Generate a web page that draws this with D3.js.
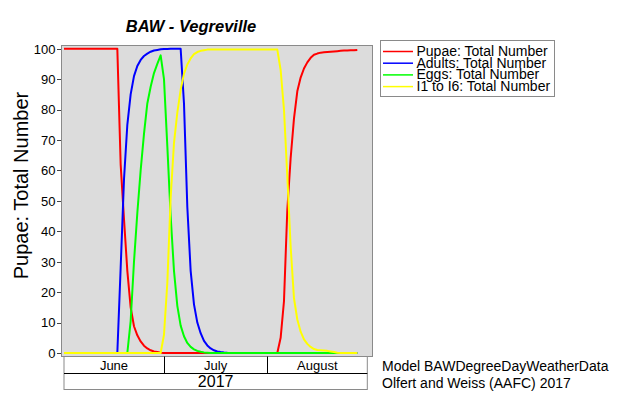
<!DOCTYPE html>
<html>
<head>
<meta charset="utf-8">
<script src="https://cdnjs.cloudflare.com/ajax/libs/d3/7.8.5/d3.min.js"></script>
<style>
  html, body { margin: 0; padding: 0; background: #ffffff; }
  svg { display: block; font-family: "Liberation Sans", Arial, sans-serif; }
</style>
</head>
<body>
<svg id="chart" width="640" height="398"></svg>
<script>
// ---------------- DATA ----------------
const title = "BAW - Vegreville";
const yAxisTitle = "Pupae: Total Number";
const seriesNames = ["Pupae: Total Number", "Adults: Total Number", "Eggs: Total Number", "I1 to I6: Total Number"];
const seriesColors = ["#ff0000", "#0000ff", "#00ff00", "#ffff00"];
const firstDay = "2017-06-01";
const lastDayExclusive = "2017-08-29";
const monthLabels = ["June", "July", "August"];
const monthEdges = ["2017-06-01", "2017-07-01", "2017-08-01", "2017-08-31"];
const yearLabel = "2017";
const yTicks = [0, 10, 20, 30, 40, 50, 60, 70, 80, 90, 100];
const creditLines = ["Model BAWDegreeDayWeatherData", "Olfert and Weiss (AAFC) 2017"];

// daily values, June 1 .. Aug 28
const pupae = [
  100,100,100,100,100,100,100,100,100,100,100,100,100,100,100,100,100,
  62,44,27,15,8.8,5.8,3.8,2.4,1.5,0.9,0.5,0.3,0.1,0,
  0,0,0,0,0,0,0,0,0,0,0,0,0,0,0,0,0,0,0,0,0,0,0,0,0,0,0,0,0,0,0,0,0,0,
  5,17,47,64,77,86,90.5,93.5,95.5,97,98,98.4,98.7,98.8,98.9,99.0,99.1,99.2,99.3,99.4,99.4,99.5,99.5,99.6
];
const adults = [
  0,0,0,0,0,0,0,0,0,0,0,0,0,0,0,0,0,
  28,57,75,85,91,94.3,96.3,97.6,98.4,99,99.4,99.6,99.8,99.9,99.9,100,100,100,100,
  82,48,27,16,10,6.5,4,2.5,1.5,0.9,0.5,0.3,0.15,0.05,
  0,0,0,0,0,0,0,0,0,0,0,0,0,0,0,0,0,0,0,0,0,0,0,0,0,0,0,0,0,0,0,0,0,0,0,0,0,0,0
];
const eggs = [
  0,0,0,0,0,0,0,0,0,0,0,0,0,0,0,0,0,0,0,0,
  10.5,30,46,60,72,82,87.5,92,95,97.8,90,68,45,27,15.5,9,5.5,3.3,2,1.2,0.7,0.4,0.2,0.1,
  0,0,0,0,0,0,0,0,0,0,0,0,0,0,0,0,0,0,0,0,0,0,0,0,0,0,0,0,0,0,0,0,0,0,0,0,0,0,0,0,0,0,0,0,0
];
const instars = [
  0,0,0,0,0,0,0,0,0,0,0,0,0,0,0,0,0,0,0,0,0,0,0,0,0,0,0,0,0,0,
  6,23,51,69,79,86.5,91.8,94.8,96.8,98.2,98.9,99.3,99.5,
  99.7,99.7,99.7,99.7,99.7,99.7,99.7,99.7,99.7,99.7,99.7,99.7,99.7,99.7,99.7,99.7,99.7,99.7,99.7,99.7,99.7,99.7,
  93,80,58,35,18,11,7,4.5,3,2,1.3,1.0,0.9,0.8,0.7,0.5,0.3,0.1,
  0,0,0,0,0,0
];
const seriesValues = [pupae, adults, eggs, instars];

// ---------------- LAYOUT ----------------
const plot = { left: 61, top: 45, right: 372, bottom: 356 };
const svg = d3.select("#chart");
const parse = d3.utcParse("%Y-%m-%d");
const days = d3.utcDay.range(parse(firstDay), parse(lastDayExclusive));

const x = d3.scaleUtc()
  .domain([parse(monthEdges[0]), parse(monthEdges[monthEdges.length - 1])])
  .range([64, 367.3]);
const y = d3.scaleLinear().domain([0, 100]).range([353, 48.7]);

// background / plot frame
svg.append("rect").attr("x", 0).attr("y", 0).attr("width", 640).attr("height", 398).attr("fill", "#ffffff");
svg.append("rect")
  .attr("x", plot.left + 0.5).attr("y", plot.top + 0.5)
  .attr("width", plot.right - plot.left).attr("height", plot.bottom - plot.top)
  .attr("fill", "#dcdcdc").attr("stroke", "#8a8a8a").attr("stroke-width", 1);

// y axis ticks and labels
const yAxis = svg.append("g");
yTicks.forEach(t => {
  yAxis.append("line")
    .attr("x1", 57).attr("x2", plot.left)
    .attr("y1", Math.round(y(t)) + 0.5).attr("y2", Math.round(y(t)) + 0.5)
    .attr("stroke", "#444").attr("stroke-width", 1);
  yAxis.append("text")
    .attr("x", 55.5).attr("y", y(t) + 4.8)
    .attr("text-anchor", "end").attr("font-size", 13).attr("fill", "#000")
    .text(t);
});

// y axis title
svg.append("text")
  .attr("transform", "translate(28,185.5) rotate(-90)")
  .attr("text-anchor", "middle").attr("font-size", 20).attr("fill", "#000")
  .text(yAxisTitle);

// title
svg.append("text")
  .attr("x", 191).attr("y", 32)
  .attr("text-anchor", "middle").attr("font-size", 16.5)
  .attr("font-weight", "bold").attr("font-style", "italic").attr("fill", "#000")
  .text(title);

// series lines
svg.append("clipPath").attr("id", "clipPlot").append("rect")
  .attr("x", plot.left + 1).attr("y", plot.top + 1)
  .attr("width", plot.right - plot.left - 1).attr("height", plot.bottom - plot.top - 1);
const line = d3.line().x(d => x(d[0])).y(d => y(d[1]));
const linesG = svg.append("g").attr("clip-path", "url(#clipPlot)");
seriesValues.forEach((vals, i) => {
  const pts = days.map((d, j) => [d, vals[j]]);
  linesG.append("path")
    .attr("d", line(pts))
    .attr("fill", "none")
    .attr("stroke", seriesColors[i])
    .attr("stroke-width", 2)
    .attr("stroke-linejoin", "round");
});

// bottom month/year table
const edges = monthEdges.map(parse);
const tTop = 356.5, tMid = 373, tBot = 389.5;
const tbl = svg.append("g");
tbl.append("rect")
  .attr("x", x(edges[0])).attr("y", tTop)
  .attr("width", x(edges[edges.length - 1]) - x(edges[0])).attr("height", tBot - tTop)
  .attr("fill", "#ffffff").attr("stroke", "#8a8a8a").attr("stroke-width", 1);
tbl.append("line")
  .attr("x1", x(edges[0])).attr("x2", x(edges[edges.length - 1]))
  .attr("y1", tMid + 0.5).attr("y2", tMid + 0.5)
  .attr("stroke", "#000").attr("stroke-width", 1);
edges.slice(1, -1).forEach(e => {
  tbl.append("line")
    .attr("x1", Math.round(x(e)) + 0.5).attr("x2", Math.round(x(e)) + 0.5)
    .attr("y1", tTop).attr("y2", tMid)
    .attr("stroke", "#000").attr("stroke-width", 1);
});
monthLabels.forEach((m, i) => {
  tbl.append("text")
    .attr("x", (x(edges[i]) + x(edges[i + 1])) / 2).attr("y", 369.5)
    .attr("text-anchor", "middle").attr("font-size", 13).attr("fill", "#000")
    .text(m);
});
tbl.append("text")
  .attr("x", (x(edges[0]) + x(edges[edges.length - 1])) / 2).attr("y", 387)
  .attr("text-anchor", "middle").attr("font-size", 16).attr("fill", "#000")
  .text(yearLabel);

// credit lines
creditLines.forEach((c, i) => {
  svg.append("text")
    .attr("x", 382).attr("y", 371 + i * 16.5)
    .attr("font-size", 14).attr("fill", "#000")
    .text(c);
});

// legend
const lg = svg.append("g");
lg.append("rect")
  .attr("x", 380.5).attr("y", 40.5).attr("width", 174).attr("height", 56)
  .attr("fill", "#ffffff").attr("stroke", "#8a8a8a").attr("stroke-width", 1);
seriesNames.forEach((n, i) => {
  const ly = 51.5 + i * 11.7;
  lg.append("line")
    .attr("x1", 383).attr("x2", 413).attr("y1", ly).attr("y2", ly)
    .attr("stroke", seriesColors[i]).attr("stroke-width", 1.5);
  lg.append("text")
    .attr("x", 416.5).attr("y", ly + 4.5)
    .attr("font-size", 14).attr("fill", "#000")
    .text(n);
});
</script>
</body>
</html>
